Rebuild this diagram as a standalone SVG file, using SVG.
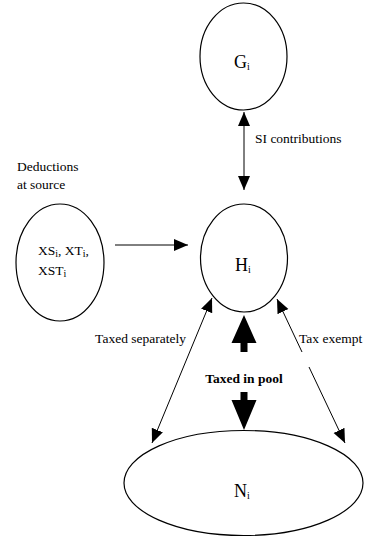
<svg xmlns="http://www.w3.org/2000/svg" width="365" height="537" viewBox="0 0 365 537">
<style>
.node{fill:#fff;stroke:#000;stroke-width:1.2}
.lbl{font-family:"Liberation Serif","Times New Roman",serif;font-size:18px;fill:#000}
.txt{font-family:"Liberation Serif","Times New Roman",serif;font-size:13.5px;fill:#000}
.sub{font-size:10px}
.conn{stroke:#000;stroke-width:1;fill:none}
.thick{fill:#000;stroke:none}
</style>
<defs>
<marker id="ah" markerUnits="userSpaceOnUse" markerWidth="14" markerHeight="14" viewBox="0 0 14 12" refX="14" refY="6" orient="auto-start-reverse">
<path d="M0,0 L14,6 L0,12 Z" fill="#000"/>
</marker>
</defs>
<g id="connectors">
<line class="conn" x1="244" y1="112" x2="244" y2="190" marker-start="url(#ah)" marker-end="url(#ah)"/>
<line class="conn" x1="115" y1="245" x2="188" y2="245" marker-end="url(#ah)"/>
<line class="conn" x1="212" y1="298" x2="152" y2="443" marker-start="url(#ah)" marker-end="url(#ah)"/>
<path class="conn" d="M277,299 L302,352 M309,367 L345,443" marker-start="url(#ah)" marker-end="url(#ah)"/>
<polygon class="thick" points="244,315 256.5,343 247.5,343 247.5,352 240.5,352 240.5,343 231.5,343"/>
<polygon class="thick" points="240.5,392 247.5,392 247.5,400 256.5,400 244,430 231.5,400 240.5,400"/>
<text class="txt" x="255" y="143">SI contributions</text>
<text class="txt" x="186" y="343" text-anchor="end">Taxed separately</text>
<text class="txt" x="299" y="343">Tax exempt</text>
<text class="txt" x="244" y="383" text-anchor="middle" font-weight="bold">Taxed in pool</text>
</g>
<g id="G">
<ellipse class="node" cx="243.5" cy="56.5" rx="43.5" ry="53.5"/>
<text class="lbl" x="234" y="68">G<tspan class="sub" dy="2">i</tspan></text>
</g>
<g id="H">
<ellipse class="node" cx="244" cy="258" rx="43.5" ry="54"/>
<text class="lbl" x="235" y="271">H<tspan class="sub" dy="2">i</tspan></text>
</g>
<g id="X">
<ellipse class="node" cx="60" cy="262.5" rx="44" ry="58.5"/>
<text class="txt" x="38" y="255" font-size="14">XS<tspan class="sub" dy="2">i</tspan><tspan dy="-2">, XT</tspan><tspan class="sub" dy="2">i</tspan><tspan dy="-2">,</tspan></text>
<text class="txt" x="38" y="275" font-size="14">XST<tspan class="sub" dy="2">i</tspan></text>
</g>
<g id="deductions">
<text class="txt" x="17" y="171">Deductions</text>
<text class="txt" x="17" y="189">at source</text>
</g>
<g id="N">
<ellipse class="node" cx="243.5" cy="483" rx="119.5" ry="52.5"/>
<text class="lbl" x="234" y="497">N<tspan class="sub" dy="2">i</tspan></text>
</g>
</svg>
